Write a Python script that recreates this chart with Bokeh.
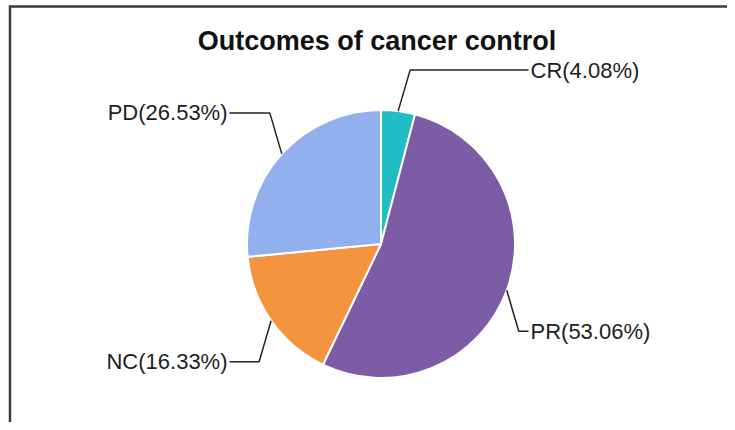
import numpy as np
from bokeh.plotting import figure
from bokeh.models import ColumnDataSource, Range1d, Label
from bokeh.core.properties import value
from bokeh.embed import file_html
from bokeh.resources import INLINE

# ---- data ----
title_text = "Outcomes of cancer control"
categories = ["CR", "PR", "NC", "PD"]
percents = [4.08, 53.06, 16.33, 26.53]
colors = ["#1fbdc6", "#7b5ca5", "#f5943f", "#93b0ee"]

# ---- layout (pixel-like data units) ----
W, H = 727, 422
X0, Y0 = 0, 8          # data range offsets so that data units ~ page pixels
CX, CY, R = 380.5, 186.5, 134
ELBOW_DX, ELBOW_DY = 12, 41
RIGHT_COL, LEFT_COL = 528, 229
TXT_GAP = 2
FRAME_LEFT, FRAME_TOP = 9.5, 424
FONT = "Liberation Sans"

p = figure(width=W, height=H, output_backend="svg", toolbar_location=None,
           x_range=Range1d(X0, X0 + W), y_range=Range1d(Y0, Y0 + H), min_border=0)
p.axis.visible = False
p.grid.visible = False
p.outline_line_color = None
p.background_fill_color = "white"
p.border_fill_color = "white"

# frame border: only top and left edges are visible in the reference
p.line(x=[FRAME_LEFT, FRAME_LEFT, X0 + W + 10],
       y=[Y0 - 10, FRAME_TOP, FRAME_TOP],
       line_color="#3a3a3a", line_width=2.5, line_join="miter")

frac = np.array(percents) / 100.0
cum = np.concatenate([[0.0], np.cumsum(frac)])
start = np.pi / 2 - 2 * np.pi * cum[:-1]
end = np.pi / 2 - 2 * np.pi * cum[1:]
src = ColumnDataSource(dict(start=start, end=end, color=colors, cat=categories))
p.wedge(x=CX, y=CY, radius=R, start_angle="start", end_angle="end",
        direction="clock", fill_color="color", line_color="white",
        line_width=2, source=src)

# leader lines & labels
mid = (cum[:-1] + cum[1:]) / 2 * 2 * np.pi
ex = CX + R * np.sin(mid)
ey = CY + R * np.cos(mid)
side = np.sign(np.sin(mid))
vert = np.sign(np.cos(mid))
bx = ex + side * ELBOW_DX
by = ey + vert * ELBOW_DY
xs, ys = [], []
rt = dict(x=[], y=[], t=[])
lt = dict(x=[], y=[], t=[])
for i, cat in enumerate(categories):
    col = RIGHT_COL if side[i] > 0 else LEFT_COL
    xs.append([ex[i], bx[i], col])
    ys.append([ey[i], by[i], by[i]])
    lab = f"{cat}({percents[i]:.2f}%)"
    if side[i] > 0:
        rt["x"].append(col + TXT_GAP); rt["y"].append(by[i]); rt["t"].append(lab)
    else:
        lt["x"].append(col - TXT_GAP); lt["y"].append(by[i]); lt["t"].append(lab)

p.multi_line(xs=xs, ys=ys, line_color="#222222", line_width=1.5)
p.text(x="x", y="y", text="t", source=ColumnDataSource(rt), text_align="left",
       text_baseline="middle", text_font=value(FONT), text_font_size="22px",
       text_color="#1e1e1e")
p.text(x="x", y="y", text="t", source=ColumnDataSource(lt), text_align="right",
       text_baseline="middle", text_font=value(FONT), text_font_size="22px",
       text_color="#1e1e1e")

p.add_layout(Label(x=376.5, y=390, text=title_text, text_align="center",
                   text_baseline="middle", text_font=FONT,
                   text_font_size="27px", text_font_style="bold",
                   text_color="#111111"))

open("out.html", "w").write(file_html(p, INLINE))
